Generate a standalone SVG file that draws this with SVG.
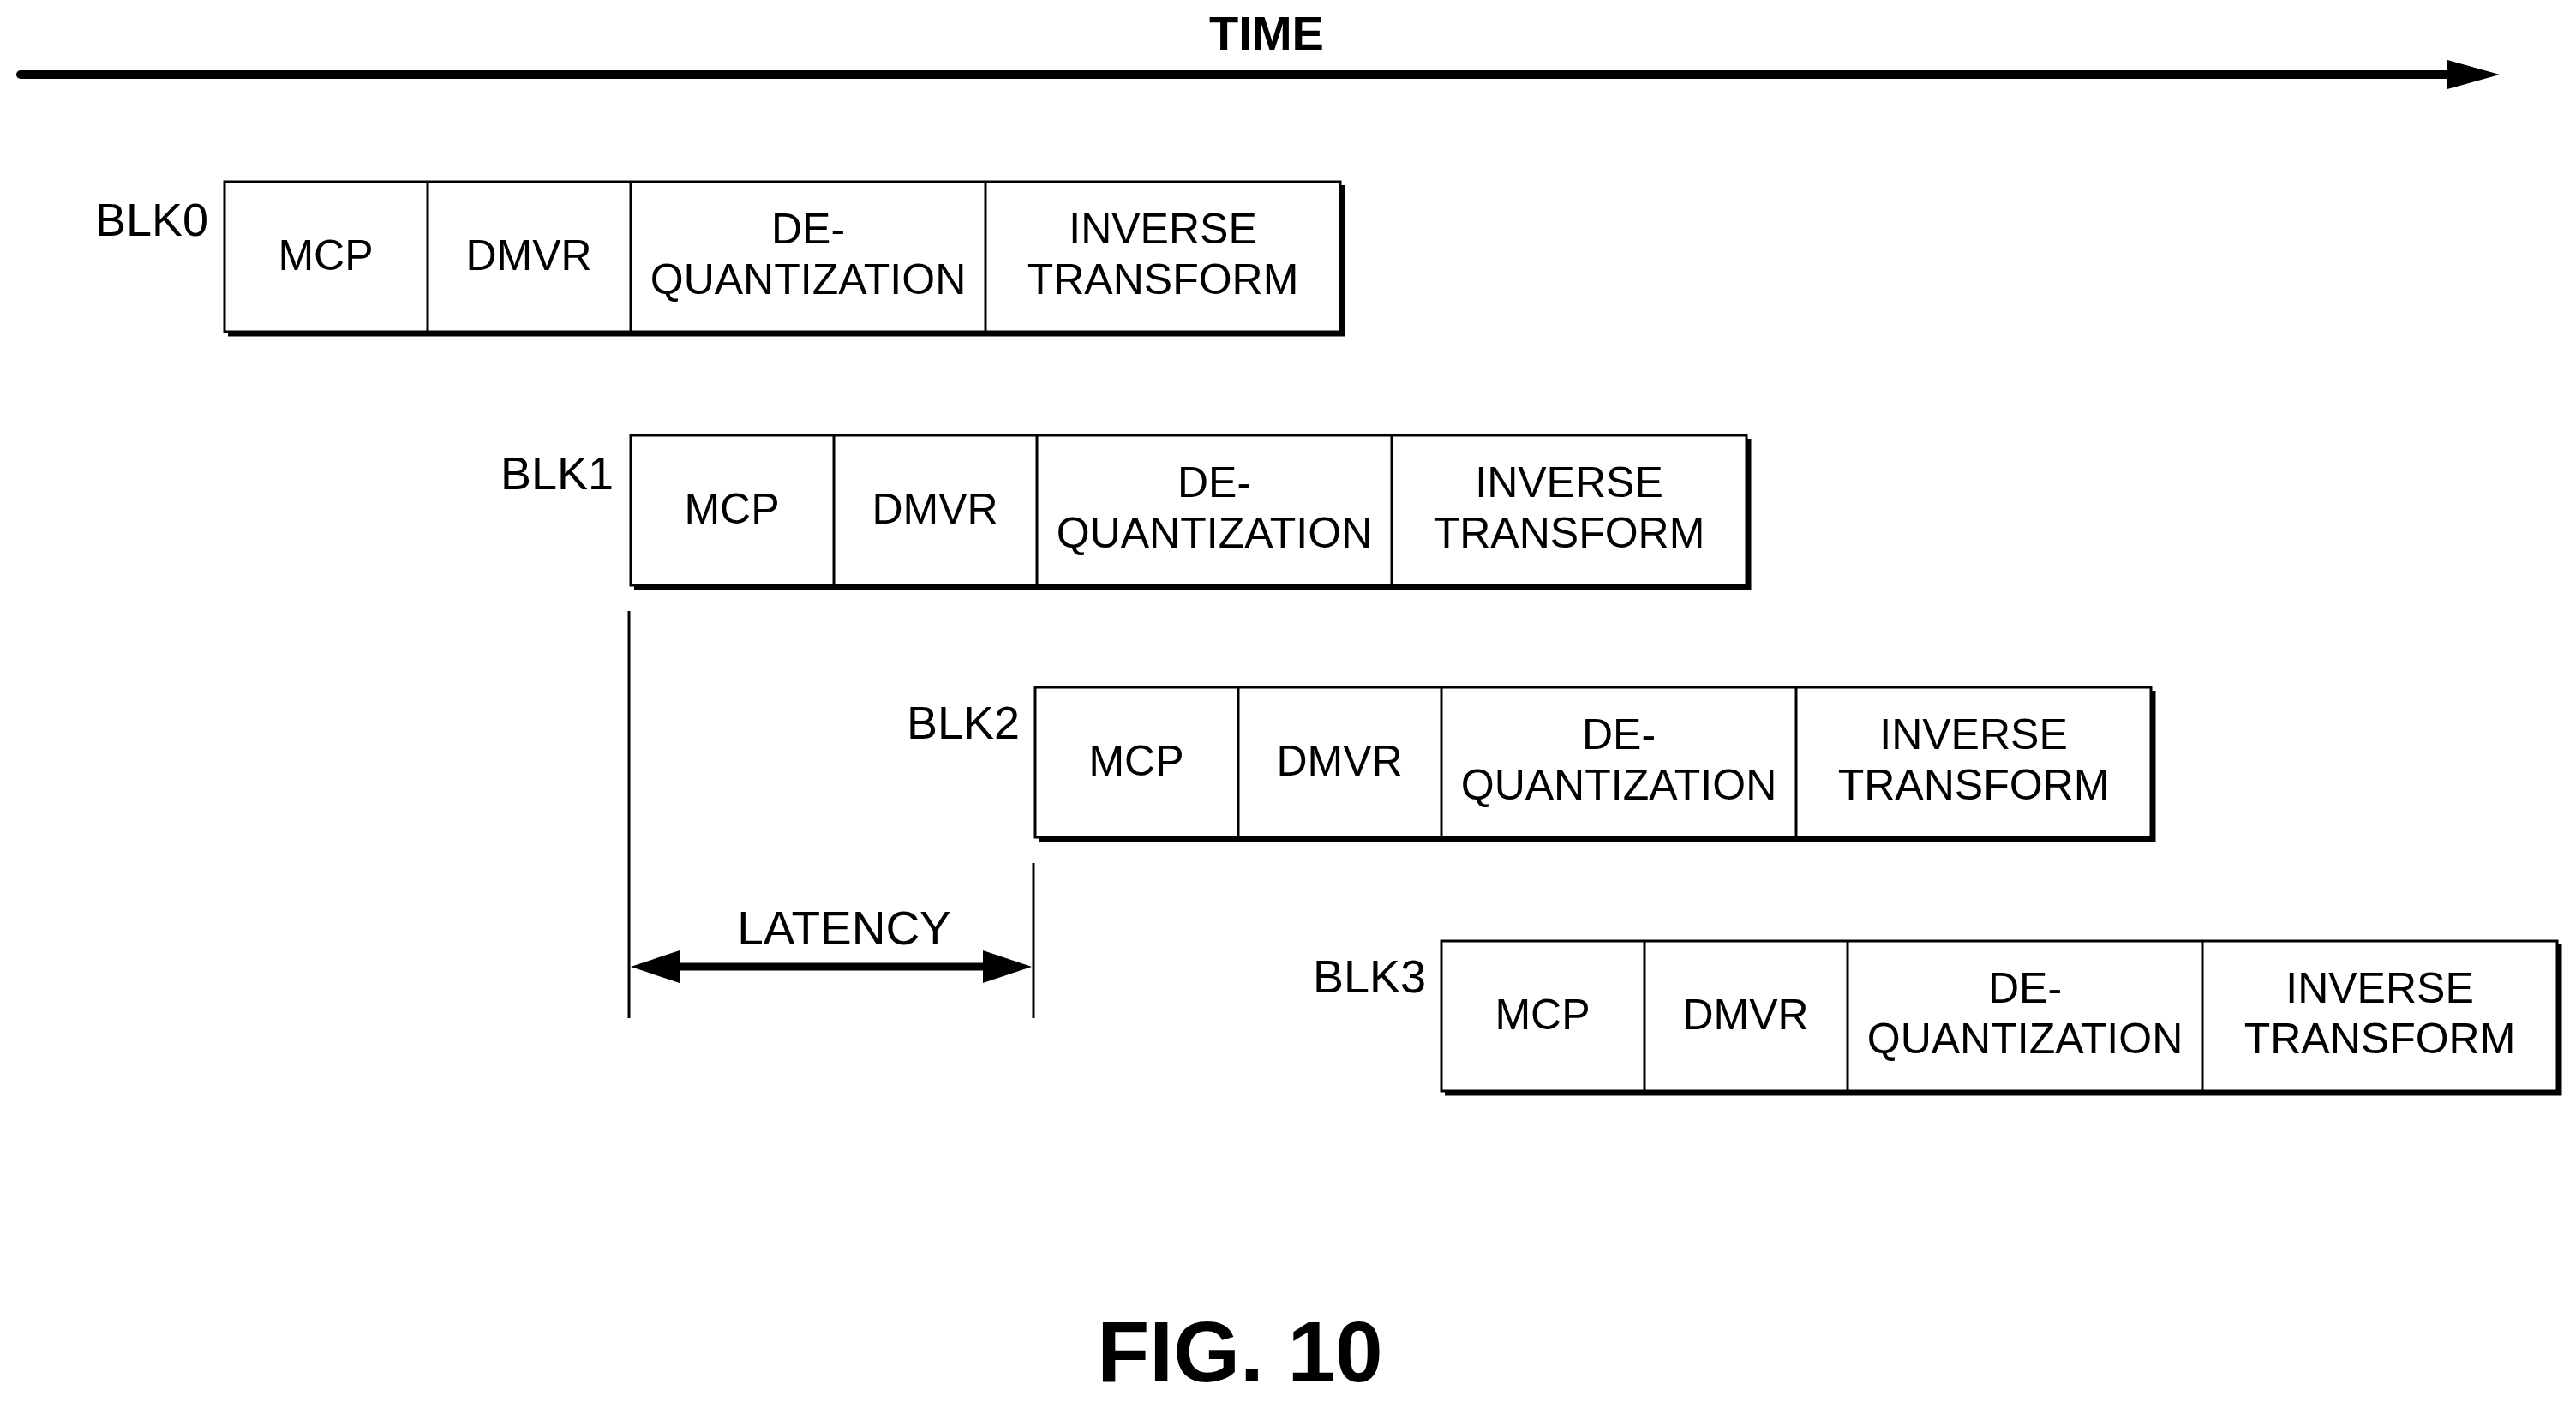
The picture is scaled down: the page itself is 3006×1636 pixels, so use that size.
<svg xmlns="http://www.w3.org/2000/svg" width="3006" height="1636" viewBox="0 0 3006 1636">
<style>
text{font-family:"Liberation Sans",Arial,sans-serif;fill:#000}
.c{font-size:50px;text-anchor:middle}
.l{font-size:54px;text-anchor:end}
.b{fill:#fff;stroke:#000;stroke-width:3}
.d{stroke:#000;stroke-width:3}
.s{stroke:#000;stroke-width:5;fill:none}
</style>
<defs>
<g id="blk">
<rect class="b" x="0" y="0" width="1302" height="175"/>
<path class="s" d="M4,178H1305V4"/>
<line class="d" x1="237" y1="0" x2="237" y2="175"/>
<line class="d" x1="474" y1="0" x2="474" y2="175"/>
<line class="d" x1="888" y1="0" x2="888" y2="175"/>
<text class="c" x="118" y="103">MCP</text>
<text class="c" x="355" y="103">DMVR</text>
<text class="c" x="681" y="72">DE-</text>
<text class="c" x="681" y="131">QUANTIZATION</text>
<text class="c" x="1095" y="72">INVERSE</text>
<text class="c" x="1095" y="131">TRANSFORM</text>
</g>
</defs>
<text x="1478" y="58" style="font-size:56px;font-weight:bold;text-anchor:middle">TIME</text>
<g id="connectors">
<path d="M24,87H2860" stroke="#000" stroke-width="10" stroke-linecap="round"/>
<path d="M2856,70L2917,87L2856,104z"/>
<line class="d" x1="734" y1="713" x2="734" y2="1188"/>
<line class="d" x1="1206" y1="1007" x2="1206" y2="1188"/>
<path d="M790,1128H1150" stroke="#000" stroke-width="9"/>
<path d="M736,1128L793,1109V1147z"/>
<path d="M1204,1128L1147,1109V1147z"/>
</g>
<text x="985" y="1102" style="font-size:55px;text-anchor:middle">LATENCY</text>
<g id="blk0"><text class="l" x="243" y="275">BLK0</text><use href="#blk" x="262" y="212"/></g>
<g id="blk1"><text class="l" x="716" y="571">BLK1</text><use href="#blk" x="736" y="508"/></g>
<g id="blk2"><text class="l" x="1190" y="862">BLK2</text><use href="#blk" x="1208" y="802"/></g>
<g id="blk3"><text class="l" x="1664" y="1158">BLK3</text><use href="#blk" x="1682" y="1098"/></g>
<text x="1447" y="1612" style="font-size:100px;font-weight:bold;text-anchor:middle">FIG. 10</text>
</svg>
